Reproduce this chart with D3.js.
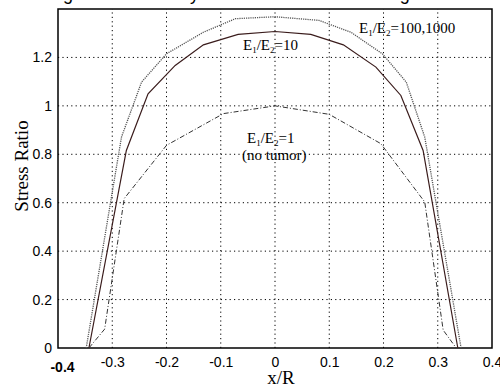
<!DOCTYPE html>
<html>
<head>
<meta charset="utf-8">
<script src="https://cdn.jsdelivr.net/npm/d3@7"></script>
<style>
  body { margin: 0; background: #fff; }
  svg { display: block; }
</style>
</head>
<body>
<svg id="chart" width="500" height="385"></svg>
<script>
// -------- DATA --------
const xTicks = [-0.4, -0.3, -0.2, -0.1, 0, 0.1, 0.2, 0.3, 0.4];
const xTickLabels = ["-0.4", "-0.3", "-0.2", "-0.1", "0", "0.1", "0.2", "0.3", "0.4"];
const yTicks = [0, 0.2, 0.4, 0.6, 0.8, 1, 1.2];
const yTickLabels = ["0", "0.2", "0.4", "0.6", "0.8", "1", "1.2"];

// E1/E2 = 10 (solid)
const xRatio10 = [-0.343, -0.274, -0.234, -0.184, -0.132, -0.068, 0, 0.066, 0.126, 0.186, 0.232, 0.273, 0.337];
const yRatio10 = [0, 0.816, 1.05, 1.167, 1.252, 1.295, 1.307, 1.295, 1.252, 1.16, 1.043, 0.816, 0];

// E1/E2 = 1, no tumor (dash-dot)
const xRatio1 = [-0.343, -0.314, -0.278, -0.2, -0.095, 0, 0.1, 0.195, 0.276, 0.31, 0.334];
const yRatio1 = [0, 0.078, 0.617, 0.837, 0.968, 1.0, 0.965, 0.844, 0.603, 0.074, 0];

// E1/E2 = 100,1000 (dotted)
const xRatio100 = [-0.348, -0.283, -0.246, -0.2, -0.132, -0.073, 0, 0.081, 0.14, 0.198, 0.242, 0.276, 0.343];
const yRatio100 = [0, 0.871, 1.098, 1.215, 1.304, 1.36, 1.368, 1.353, 1.304, 1.215, 1.098, 0.871, 0];

// -------- LAYOUT --------
const margin = { left: 58, right: 8, top: 9, bottom: 37 };
const W = 500, H = 385;
const svg = d3.select("#chart");

const x = d3.scaleLinear().domain([-0.4, 0.4]).range([margin.left, W - margin.right]);
const y = d3.scaleLinear().domain([0, 1.4]).range([H - margin.bottom, margin.top]);

// title sits above the page edge, only its descenders show
svg.append("text")
  .attr("x", 48)
  .attr("y", 0)
  .attr("font-family", "Liberation Sans, Arial, sans-serif")
  .attr("font-size", 18)
  .attr("fill", "#000")
  .text("Figure 6. Stress by tumor stiffness ratio along the axis");

// -------- GRID --------
const grid = svg.append("g").attr("class", "grid");
grid.selectAll("line.v")
  .data(xTicks.filter(t => t > -0.4 && t < 0.4))
  .enter().append("line")
  .attr("x1", d => x(d)).attr("x2", d => x(d))
  .attr("y1", y(0)).attr("y2", y(1.4))
  .attr("stroke", "#000").attr("stroke-width", 1)
  .attr("stroke-dasharray", "1.2,3.2");

grid.selectAll("line.h")
  .data(yTicks.filter(t => t > 0))
  .enter().append("line")
  .attr("x1", x(-0.4)).attr("x2", x(0.4))
  .attr("y1", d => y(d)).attr("y2", d => y(d))
  .attr("stroke", "#000").attr("stroke-width", 1)
  .attr("stroke-dasharray", "1.2,3.2");

// -------- AXES --------
const xAxis = svg.append("g")
  .attr("transform", `translate(0,${y(0)})`)
  .call(d3.axisBottom(x).tickValues(xTicks).tickFormat((d, i) => xTickLabels[i]).tickSize(0).tickPadding(9));

const yAxis = svg.append("g")
  .attr("transform", `translate(${x(-0.4)},0)`)
  .call(d3.axisLeft(y).tickValues(yTicks).tickFormat((d, i) => yTickLabels[i]).tickSize(0).tickPadding(6));

[xAxis, yAxis].forEach(a => {
  a.select(".domain").remove();
  a.selectAll("text")
    .attr("font-family", "Liberation Sans, Arial, sans-serif")
    .attr("font-size", 14)
    .attr("fill", "#000");
});

// odd offset of the first x label in the original
xAxis.selectAll(".tick").filter(d => d === -0.4).select("text")
  .attr("dx", 4).attr("dy", "1.05em").attr("font-weight", "bold");

// frame
svg.append("rect")
  .attr("x", x(-0.4)).attr("y", y(1.4))
  .attr("width", x(0.4) - x(-0.4)).attr("height", y(0) - y(1.4))
  .attr("fill", "none").attr("stroke", "#000").attr("stroke-width", 1.5);

// -------- CURVES --------
const line = d3.line().x(d => x(d[0])).y(d => y(d[1]));

svg.append("path")
  .datum(d3.zip(xRatio100, yRatio100))
  .attr("d", line)
  .attr("fill", "none").attr("stroke", "#555")
  .attr("stroke-width", 1.3).attr("stroke-dasharray", "1.2,1");

svg.append("path")
  .datum(d3.zip(xRatio10, yRatio10))
  .attr("d", line)
  .attr("fill", "none").attr("stroke", "#3a1c1c")
  .attr("stroke-width", 1.2);

svg.append("path")
  .datum(d3.zip(xRatio1, yRatio1))
  .attr("d", line)
  .attr("fill", "none").attr("stroke", "#333")
  .attr("stroke-width", 1).attr("stroke-dasharray", "5,2,1,2");

// -------- LABELS --------
function ratioLabel(px, py, value) {
  const t = svg.append("text")
    .attr("x", px).attr("y", py)
    .attr("font-family", "Liberation Serif, Times New Roman, serif")
    .attr("font-size", 15)
    .attr("fill", "#000");
  t.append("tspan").text("E");
  t.append("tspan").attr("font-size", 9).attr("dy", 3).text("1");
  t.append("tspan").attr("dy", -3).text("/E");
  t.append("tspan").attr("font-size", 9).attr("dy", 3).text("2");
  t.append("tspan").attr("dy", -3).text("=" + value);
  return t;
}

ratioLabel(359, 33, "100,1000");
ratioLabel(243, 50, "10");
ratioLabel(247, 143, "1");

svg.append("text")
  .attr("x", 242).attr("y", 160)
  .attr("font-family", "Liberation Serif, Times New Roman, serif")
  .attr("font-size", 15)
  .attr("fill", "#000")
  .text("(no tumor)");

// axis titles
svg.append("text")
  .attr("x", 281).attr("y", 384)
  .attr("text-anchor", "middle")
  .attr("font-family", "Liberation Serif, Times New Roman, serif")
  .attr("font-size", 19)
  .attr("fill", "#000")
  .text("x/R");

svg.append("text")
  .attr("transform", "translate(28,166) rotate(-90)")
  .attr("text-anchor", "middle")
  .attr("font-family", "Liberation Serif, Times New Roman, serif")
  .attr("font-size", 19)
  .attr("fill", "#000")
  .text("Stress Ratio");
</script>
</body>
</html>
